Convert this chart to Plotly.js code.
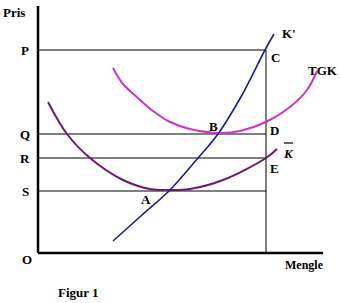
<!DOCTYPE html>
<html>
<head>
<meta charset="utf-8">
<script src="https://cdn.plot.ly/plotly-3.0.1.min.js"></script>
<style>html,body{margin:0;padding:0;background:#fff;}#chart{width:341px;height:303px;}</style>
</head>
<body>
<div id="chart"></div>
<script>
// Quantity (x) and price (y) in chart units, origin at O
const kPrimeX = [75, 104, 132, 160, 180, 204, 227, 236];
const kPrimeY = [12, 38, 63, 95, 119, 158, 203, 219];
const tgkX = [75, 85, 100, 115, 132, 152, 182, 202, 228, 252, 269, 279];
const tgkY = [185, 169, 155, 142, 131, 124, 120, 122, 131, 146, 163, 182];
const kBarX = [10, 29, 52, 85, 112, 132, 152, 185, 228, 239];
const kBarY = [151, 119, 95, 73, 64, 63, 64, 73, 95, 104];
const priceLevels = {P: 203, Q: 119, R: 95, S: 62};
const levelNames = ["P", "Q", "R", "S"];
const quantityC = 228;
const axisMaxX = 285;
const axisMaxY = 247;

const font = {family: "Liberation Serif, Times New Roman, serif", size: 13, color: "#000"};
const traces = [];
levelNames.forEach(n => {
  traces.push({x: [0, quantityC], y: [priceLevels[n], priceLevels[n]], mode: "lines",
    line: {color: "#000", width: 1}, hoverinfo: "skip"});
});
traces.push({x: [quantityC, quantityC], y: [0, priceLevels.P], mode: "lines",
  line: {color: "#000", width: 1}, hoverinfo: "skip"});
traces.push({x: [0, 0], y: [0, axisMaxY], mode: "lines", line: {color: "#000", width: 2.5}});
traces.push({x: [0, axisMaxX], y: [0, 0], mode: "lines", line: {color: "#000", width: 2.5}});
traces.push({x: kBarX, y: kBarY, mode: "lines", line: {color: "#6a1a72", width: 2, shape: "spline"}});
traces.push({x: tgkX, y: tgkY, mode: "lines", line: {color: "#cc33cc", width: 2, shape: "spline"}});
traces.push({x: kPrimeX, y: kPrimeY, mode: "lines", line: {color: "#1c1c96", width: 1.6, shape: "spline"}});

function lab(text, x, y, extra) {
  return Object.assign({text: "<b>" + text + "</b>", x: x, y: y, xref: "x", yref: "y",
    showarrow: false, font: font, xanchor: "center", yanchor: "middle"}, extra || {});
}
const kBarLabel = {x: 250, y: 100};
const annotations = [
  lab("Pris", -24, 241),
  lab("P", -13, priceLevels.P),
  lab("Q", -13, priceLevels.Q),
  lab("R", -13, priceLevels.R),
  lab("S", -13, priceLevels.S),
  lab("O", -11, -6),
  lab("K'", 251, 220),
  lab("C", 237, 196),
  lab("TGK", 285, 183),
  lab("B", 175, 127),
  lab("D", 236, 123),
  lab("<i>K</i>", kBarLabel.x, kBarLabel.y),
  lab("E", 236, 85),
  lab("A", 108, 54),
  lab("Mengle", 266, -12, {font: Object.assign({}, font, {size: 12})}),
  lab("Figur 1", 40, -39)
];
// overline over the K label
const shapes = [{type: "line", xref: "x", yref: "y",
  x0: kBarLabel.x - 4, x1: kBarLabel.x + 5, y0: kBarLabel.y + 10, y1: kBarLabel.y + 10,
  line: {color: "#000", width: 1.2}}];

Plotly.newPlot("chart", traces, {
  width: 341, height: 303,
  margin: {l: 0, r: 0, t: 0, b: 0},
  paper_bgcolor: "#fff", plot_bgcolor: "#fff",
  showlegend: false,
  xaxis: {range: [-38, 303], visible: false, fixedrange: true},
  yaxis: {range: [-50, 253], visible: false, fixedrange: true},
  annotations: annotations,
  shapes: shapes
}, {staticPlot: true});
</script>
</body>
</html>
